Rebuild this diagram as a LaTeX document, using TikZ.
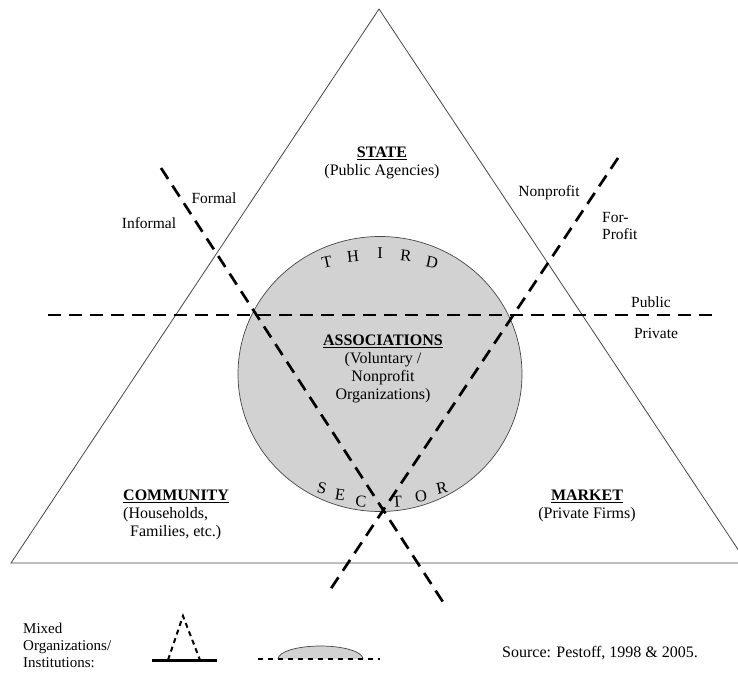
\documentclass[tikz,border=0pt]{standalone}
\usepackage{fontspec}
\setmainfont{Liberation Serif}
\usetikzlibrary{positioning}
\definecolor{sectorgray}{RGB}{210,210,210}
\definecolor{edgegray}{RGB}{70,70,70}
\tikzset{
  divider/.style={line width=2.7pt, dash pattern=on 13pt off 8pt},
  sectorlabel/.style={font=\fontsize{16}{18}\selectfont, align=center, inner sep=0pt},
  sidelabel/.style={font=\fontsize{15.5}{17.5}\selectfont, inner sep=0pt},
  arcletter/.style={font=\fontsize{16.5}{18}\selectfont, inner sep=0pt},
}

\begin{document}
\begin{tikzpicture}[x=1pt, y=-1pt]
  \useasboundingbox (0,0) rectangle (738,675);

  % Third sector circle - drawn first
  \fill[sectorgray] (380,374) ellipse [x radius=142, y radius=137.5];
  \draw[edgegray, line width=0.7pt] (380,374) ellipse [x radius=142, y radius=137.5];

  % Welfare triangle
  \coordinate (apex) at (379,9);
  \coordinate (cornerL) at (11,563);
  \coordinate (cornerR) at (747,563);
  \draw[edgegray, line width=0.8pt] (apex) -- (cornerL) -- (cornerR) -- cycle;

  % Dividing lines
  \coordinate (publicL) at (48,315);
  \coordinate (publicR) at (715,315);
  \coordinate (formalT) at (161,168);
  \coordinate (formalB) at (443,602);
  \coordinate (profitT) at (618,158);
  \coordinate (profitB) at (330,590);
  \draw[divider] (publicL) -- (publicR);
  \draw[divider] (formalT) -- (formalB);
  \draw[divider] (profitT) -- (profitB);

  % Corner sectors
  \node[sectorlabel] (state) at (382,163) {\underline{\textbf{STATE}}\\(Public Agencies)};
  \node[sectorlabel] (assoc) at (383,369) {\underline{\textbf{ASSOCIATIONS}}\\(Voluntary /\\Nonprofit\\Organizations)};
  \node[sectorlabel, align=left, anchor=west] (community) at (123,515) {\underline{\textbf{COMMUNITY}}\\(Households,\\\hspace*{7pt}Families, etc.)};
  \node[sectorlabel] (market) at (587,506) {\underline{\textbf{MARKET}}\\(Private Firms)};

  % Letters round the circle
  \node[arcletter, rotate=12] (thirdT) at (327,262) {T};
  \node[arcletter, rotate=6] (thirdH) at (353,256) {H};
  \node[arcletter] (thirdI) at (380,253) {I};
  \node[arcletter, rotate=-6] (thirdR) at (406,256) {R};
  \node[arcletter, rotate=-12] (thirdD) at (432,262) {D};
  \node[arcletter, rotate=-12] (sectorS) at (322,488) {S};
  \node[arcletter, rotate=-8] (sectorE) at (340,495) {E};
  \node[arcletter, rotate=-4] (sectorC) at (361,502) {C};
  \node[arcletter, rotate=4] (sectorT) at (397,502) {T};
  \node[arcletter, rotate=8] (sectorO) at (421,496) {O};
  \node[arcletter, rotate=12] (sectorR) at (442,488) {R};

  % Line labels
  \node[sidelabel] (formal) at (214,198) {Formal};
  \node[sidelabel] (informal) at (149,223) {Informal};
  \node[sidelabel] (nonprofit) at (549,193) {Nonprofit};
  \node[sidelabel, align=left, anchor=west] (forprofit) at (602,226) {For-\\Profit};
  \node[sidelabel] (public) at (651,302) {Public};
  \node[sidelabel] (private) at (656,333) {Private};

  % Legend
  \node[font=\fontsize{15}{17}\selectfont, align=left, anchor=west, inner sep=0pt] (mixed) at (23,645) {Mixed\\Organizations/\\Institutions:};
  \coordinate (mixTop) at (183,616);
  \coordinate (mixL) at (168,660);
  \coordinate (mixR) at (200,660);
  \draw[line width=2pt, dash pattern=on 5pt off 4pt] (mixL) -- (mixTop) -- (mixR);
  \draw[line width=3pt] (152,660) -- (217,660);
  \fill[sectorgray] (278,659) arc [start angle=180, end angle=360, x radius=42.5, y radius=13] -- cycle;
  \draw[edgegray, line width=0.7pt] (278,659) arc [start angle=180, end angle=360, x radius=42.5, y radius=13];
  \draw[line width=2.7pt, dash pattern=on 5pt off 5pt] (258,659) -- (380,659);
  \node[font=\fontsize{16}{18}\selectfont, anchor=west, inner sep=0pt] (source) at (502,653) {Source: Pestoff, 1998 \& 2005.};
\end{tikzpicture}
\end{document}
